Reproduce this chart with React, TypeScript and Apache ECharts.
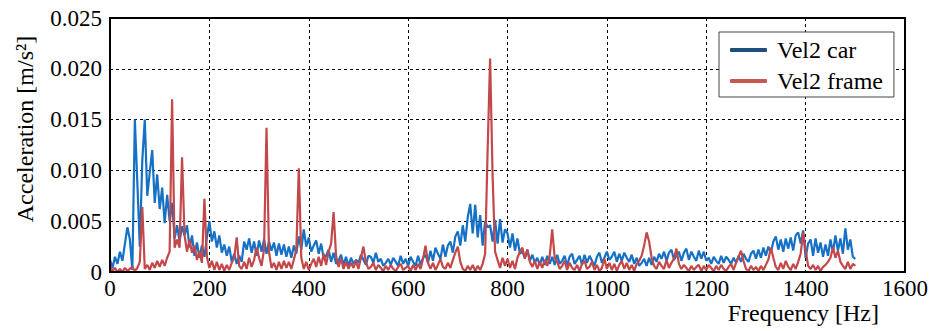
import React, { useEffect, useRef } from "react";
import * as echarts from "echarts";

// Spectra sampled every 5 Hz from 0 to 1500 Hz; amplitudes in 10^-3 m/s^2.
const FREQ_STEP_HZ = 5;

const vel2Car = [
  // 0 - 95 Hz
  1.2, 0.4, 1.5, 0.8, 2.0, 1.1, 2.8, 4.4, 3.2, 0.2, 15.0, 8.8, 2.5, 11.0, 15.0, 7.5, 9.8, 12.0, 6.8, 9.6,
  // 100 - 195 Hz
  6.2, 8.3, 4.8, 7.6, 5.0, 6.8, 3.3, 4.6, 3.0, 4.5, 3.6, 4.6, 2.4, 3.6, 1.6, 2.9, 1.4, 2.6, 1.5, 3.4,
  // 200 - 295 Hz
  5.0, 3.0, 4.0, 2.4, 3.6, 1.9, 2.7, 1.6, 2.5, 1.0, 1.8, 0.8, 1.6, 1.0, 3.0, 2.2, 3.3, 1.9, 3.0, 1.6,
  // 300 - 395 Hz
  3.1, 2.0, 3.2, 1.8, 3.0, 2.1, 2.9, 1.6, 2.8, 1.7, 2.7, 1.5, 2.5, 1.4, 2.6, 1.8, 3.5, 2.2, 4.2, 2.5,
  // 400 - 495 Hz
  3.4, 2.0, 2.6, 3.1, 1.8, 2.8, 1.3, 1.6, 2.2, 1.0, 1.9, 0.8, 1.1, 1.7, 0.7, 1.5, 0.6, 1.4, 0.8, 1.2,
  // 500 - 595 Hz
  0.9, 1.7, 1.2, 0.7, 1.6, 1.5, 0.9, 1.9, 1.0, 1.3, 0.6, 0.9, 1.3, 0.7, 1.4, 1.0, 0.6, 1.6, 0.8, 1.3,
  // 600 - 695 Hz
  0.6, 1.5, 1.0, 0.6, 1.6, 0.7, 1.4, 1.7, 0.9, 2.1, 1.1, 2.4, 1.8, 1.3, 2.7, 1.5, 2.6, 3.0, 1.9, 3.5,
  // 700 - 795 Hz
  4.0, 2.6, 4.6, 3.0, 5.4, 6.7, 3.8, 6.6, 3.4, 5.6, 2.6, 5.0, 4.4, 4.6, 3.0, 5.1, 2.8, 5.2, 2.9, 4.2,
  // 800 - 895 Hz
  3.8, 2.4, 3.8, 2.1, 3.3, 1.8, 2.0, 1.4, 2.2, 1.1, 1.7, 0.9, 1.4, 0.7, 1.5, 0.7, 1.6, 0.8, 1.5, 0.7,
  // 900 - 995 Hz
  1.7, 0.8, 1.1, 1.6, 0.6, 1.5, 1.8, 0.8, 1.2, 1.6, 0.7, 1.7, 0.9, 1.6, 1.1, 0.6, 1.5, 1.9, 0.9, 1.4,
  // 1000 - 1095 Hz
  2.0, 1.2, 1.5, 2.0, 1.0, 1.8, 1.1, 1.9, 1.4, 1.0, 1.7, 0.8, 1.4, 0.6, 0.9, 1.3, 0.6, 1.4, 0.7, 1.5,
  // 1100 - 1195 Hz
  1.0, 1.8, 1.3, 2.0, 1.1, 1.9, 2.2, 1.2, 1.6, 2.0, 1.1, 1.9, 2.3, 1.2, 2.0, 1.5, 1.1, 2.1, 1.3, 2.0,
  // 1200 - 1295 Hz
  1.1, 1.4, 0.8, 1.5, 1.1, 0.8, 1.6, 0.9, 1.5, 1.2, 0.8, 1.4, 0.9, 1.6, 1.0, 1.8, 1.3, 1.0, 1.8, 2.1,
  // 1300 - 1395 Hz
  1.3, 2.2, 1.4, 2.4, 1.6, 2.5, 1.9, 3.0, 3.5, 2.2, 3.2, 2.0, 3.3, 2.3, 3.4, 2.1, 3.6, 3.9, 2.8, 4.1,
  // 1400 - 1495 Hz
  1.4, 2.8, 3.2, 1.6, 3.3, 1.9, 2.9, 1.5, 2.7, 1.6, 3.2, 1.9, 3.6, 2.1, 3.3, 1.8, 4.3, 2.2, 3.2, 1.5,
  // 1500 Hz
  1.3,
];

const vel2Frame = [
  // 0 - 95 Hz
  0.7, 0.1, 0.4, 0.0, 0.3, 0.0, 0.4, 0.1, 0.3, 0.5, 0.1, 0.4, 1.0, 6.4, 0.3, 0.7, 0.2, 0.9, 0.4, 1.1,
  // 100 - 195 Hz
  0.5, 1.2, 0.6, 1.4, 2.0, 17.0, 2.4, 3.2, 2.4, 11.3, 3.6, 2.0, 3.2, 1.9, 2.6, 1.2, 2.0, 0.9, 7.2, 1.5,
  // 200 - 295 Hz
  0.4, 1.1, 0.2, 1.0, 0.2, 0.8, 0.1, 0.7, 0.2, 0.9, 1.4, 3.4, 0.6, 0.3, 1.0, 0.3, 1.4, 0.5, 1.2, 2.4,
  // 300 - 395 Hz
  1.4, 0.6, 2.2, 14.2, 2.0, 0.4, 0.9, 0.2, 1.0, 0.3, 1.1, 0.4, 1.0, 0.3, 1.2, 2.2, 10.2, 1.4, 0.3, 1.0,
  // 400 - 495 Hz
  0.2, 0.8, 1.3, 0.5, 1.5, 0.6, 1.8, 0.7, 2.0, 2.8, 5.9, 1.6, 0.5, 1.3, 0.3, 1.0, 0.3, 0.9, 0.4, 1.1,
  // 500 - 595 Hz
  0.3, 1.4, 2.5, 1.0, 0.3, 0.5, 0.9, 0.2, 0.7, 0.4, 0.1, 0.6, 0.2, 0.7, 0.3, 0.1, 0.5, 0.8, 0.2, 0.4,
  // 600 - 695 Hz
  0.6, 0.1, 0.7, 0.2, 0.8, 0.3, 1.3, 2.6, 0.9, 0.3, 0.9, 0.2, 0.7, 1.3, 0.5, 0.3, 0.9, 0.4, 1.2, 1.9,
  // 700 - 795 Hz
  2.5, 1.0, 0.3, 0.1, 0.6, 0.2, 0.7, 0.1, 0.6, 0.2, 0.8, 1.8, 12.0, 21.0, 9.5, 2.0, 1.2, 0.4, 1.4, 0.6,
  // 800 - 895 Hz
  1.3, 0.4, 1.1, 0.3, 1.4, 2.0, 2.4, 1.3, 2.2, 1.0, 0.5, 1.1, 0.3, 1.0, 0.4, 1.2, 0.6, 1.6, 4.2, 1.4,
  // 900 - 995 Hz
  1.0, 0.3, 0.6, 1.1, 0.2, 0.9, 0.4, 0.2, 0.7, 0.1, 0.8, 1.1, 0.3, 0.5, 1.0, 0.2, 0.7, 0.1, 0.4, 1.3,
  // 1000 - 1095 Hz
  0.3, 0.9, 0.2, 0.8, 0.1, 0.7, 1.1, 0.3, 0.9, 0.2, 0.7, 0.1, 0.8, 1.1, 1.6, 2.6, 3.9, 3.0, 1.4, 0.6,
  // 1100 - 1195 Hz
  0.3, 1.0, 0.6, 0.3, 1.2, 0.4, 0.9, 1.3, 2.3, 0.8, 0.3, 0.7, 0.4, 0.1, 0.6, 0.2, 0.5, 0.7, 0.1, 0.6,
  // 1200 - 1295 Hz
  0.2, 0.7, 0.4, 0.1, 0.6, 0.2, 0.7, 0.3, 0.1, 0.5, 0.8, 0.2, 0.9, 1.5, 2.1, 1.1, 0.3, 0.1, 0.6, 0.2,
  // 1300 - 1395 Hz
  0.5, 0.1, 0.6, 0.2, 0.7, 1.2, 2.4, 1.4, 0.5, 0.2, 0.9, 0.3, 1.1, 0.5, 0.2, 0.8, 0.3, 1.0, 1.8, 3.9,
  // 1400 - 1495 Hz
  2.2, 0.6, 0.3, 0.7, 0.2, 0.6, 0.1, 0.5, 0.7, 1.0, 1.4, 2.4, 1.4, 2.1, 1.0, 0.6, 0.3, 1.0, 0.3, 0.8,
  // 1500 Hz
  0.6,
];

const xTickValues = [0, 200, 400, 600, 800, 1000, 1200, 1400, 1600];
const yTickValues = [0, 0.005, 0.01, 0.015, 0.02, 0.025];

const SERIES_NAMES = ["Vel2 car", "Vel2 frame"];
const X_TITLE = "Frequency [Hz]";
const Y_TITLE = "Acceleration [m/s²]";

const FONT = "Liberation Serif";
const CAR_COLOR = "#1571c6";
const FRAME_COLOR = "#c4474a";
const CAR_LEGEND = "#1d4f7c";
const FRAME_LEGEND = "#c8584f";

const toPairs = (milli: number[]) =>
  milli.map((v, i) => [i * FREQ_STEP_HZ, v / 1000]);

export default function App() {
  const ref = useRef<HTMLDivElement>(null);

  useEffect(() => {
    if (!ref.current) return;
    const chart = echarts.init(ref.current, undefined, { renderer: "svg" });

    const xStep = xTickValues[1] - xTickValues[0];
    const yStep = yTickValues[1] - yTickValues[0];

    chart.setOption({
      animation: false,
      backgroundColor: "#ffffff",
      grid: {
        left: 110,
        top: 18,
        right: 22,
        bottom: 59,
        show: true,
        borderColor: "#000",
        borderWidth: 2,
        backgroundColor: "transparent",
        z: 10,
      },
      xAxis: {
        type: "value",
        min: xTickValues[0],
        max: xTickValues[xTickValues.length - 1],
        interval: xStep,
        axisLine: { show: false },
        axisTick: { show: false },
        axisLabel: {
          color: "#000",
          fontFamily: FONT,
          fontSize: 23,
          margin: 5,
          formatter: (v: number) => String(v),
        },
        splitLine: {
          show: true,
          lineStyle: { color: "#000", width: 1, type: [3, 3] },
        },
      },
      yAxis: {
        type: "value",
        min: yTickValues[0],
        max: yTickValues[yTickValues.length - 1],
        interval: yStep,
        axisLine: { show: false },
        axisTick: { show: false },
        axisLabel: {
          color: "#000",
          fontFamily: FONT,
          fontSize: 23,
          margin: 8,
          formatter: (v: number) => (v === 0 ? "0" : v.toFixed(3)),
        },
        splitLine: {
          show: true,
          lineStyle: { color: "#000", width: 1, type: [3, 3] },
        },
      },
      legend: {
        orient: "vertical",
        left: 719,
        top: 32,
        padding: [5, 11, 3, 11],
        itemGap: 5,
        itemWidth: 37,
        itemHeight: 4,
        icon: "roundRect",
        backgroundColor: "#fff",
        borderColor: "#444",
        borderWidth: 1,
        borderRadius: 0,
        textStyle: {
          color: "#000",
          fontFamily: FONT,
          fontSize: 24,
          lineHeight: 26,
          padding: [0, 0, 0, 5],
        },
        data: [
          { name: SERIES_NAMES[0], itemStyle: { color: CAR_LEGEND } },
          { name: SERIES_NAMES[1], itemStyle: { color: FRAME_LEGEND } },
        ],
        z: 20,
      },
      graphic: [
        {
          type: "text",
          x: 879,
          y: 313,
          style: {
            text: X_TITLE,
            fontFamily: FONT,
            fontSize: 24,
            fill: "#000",
            align: "right",
            verticalAlign: "middle",
          },
        },
        {
          type: "text",
          x: 25,
          y: 129,
          rotation: Math.PI / 2,
          style: {
            text: Y_TITLE,
            fontFamily: FONT,
            fontSize: 24,
            fill: "#000",
            align: "center",
            verticalAlign: "middle",
          },
        },
      ],
      series: [
        {
          name: SERIES_NAMES[0],
          type: "line",
          data: toPairs(vel2Car),
          showSymbol: false,
          symbol: "none",
          lineStyle: { color: CAR_COLOR, width: 2.2 },
          itemStyle: { color: CAR_COLOR },
          z: 2,
        },
        {
          name: SERIES_NAMES[1],
          type: "line",
          data: toPairs(vel2Frame),
          showSymbol: false,
          symbol: "none",
          lineStyle: { color: FRAME_COLOR, width: 2.2 },
          itemStyle: { color: FRAME_COLOR },
          z: 3,
        },
      ],
    });

    return () => chart.dispose();
  }, []);

  return (
    <div
      ref={ref}
      style={{ position: "fixed", left: 0, top: 0, width: 931, height: 331 }}
    />
  );
}
